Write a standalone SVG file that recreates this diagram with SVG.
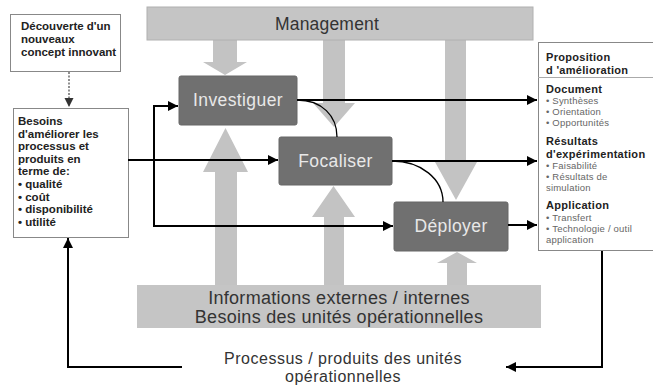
<svg xmlns="http://www.w3.org/2000/svg" width="653" height="389" viewBox="0 0 653 389">
<style>
  .bar{fill:#c5c5c5;stroke:#b0b0b0;stroke-width:1}
  .blk{fill:#c3c3c3}
  .dark{fill:#707070;stroke:#666;stroke-width:1}
  .dt{font-family:"Liberation Sans",Arial,sans-serif;font-size:17.5px;letter-spacing:0.4px;fill:#e8e8e8;text-anchor:middle}
  .bt{font-family:"Liberation Sans",Arial,sans-serif;font-size:18px;letter-spacing:0.3px;fill:#333;text-anchor:middle}
  .box{fill:#fff;stroke:#888;stroke-width:1}
  .lt{font-family:"Liberation Sans",Arial,sans-serif;font-size:11.5px;font-weight:bold;fill:#222}
  .hd{font-family:"Liberation Sans",Arial,sans-serif;font-size:11px;letter-spacing:0.3px;font-weight:bold;fill:#222}
  .bl{font-family:"Liberation Sans",Arial,sans-serif;font-size:9.5px;letter-spacing:0.2px;fill:#666}
  .ln{fill:none;stroke:#000;stroke-width:2}
  .cv{fill:none;stroke:#000;stroke-width:1.3}
</style>
<defs>
  <marker id="ah" viewBox="0 0 10 10" refX="10" refY="5" markerWidth="5" markerHeight="5" orient="auto" markerUnits="strokeWidth">
    <path d="M0,0 L10,5 L0,10 z" fill="#000"/>
  </marker>
  <marker id="ahs" viewBox="0 0 10 10" refX="10" refY="5" markerWidth="7" markerHeight="7" orient="auto" markerUnits="strokeWidth">
    <path d="M0,0 L10,5 L0,10 z" fill="#333"/>
  </marker>
</defs>

<!-- Block arrows -->
<g id="block-arrows">
  <polygon class="blk" points="213,40 237,40 237,62 247,62 225,75 203,62 213,62"/>
  <polygon class="blk" points="323,40 345,40 345,103 355,103 334,127 313,103 323,103"/>
  <polygon class="blk" points="445,40 466,40 466,162 477,162 456,200 435,162 445,162"/>
  <polygon class="blk" points="215,285 237,285 237,172 248,172 225.5,128 203,172 215,172"/>
  <polygon class="blk" points="324,285 344,285 344,217 355,217 333.5,186 312,217 324,217"/>
  <polygon class="blk" points="447,285 467,285 467,263 477,263 457,252 437,263 447,263"/>
</g>

<g id="management">
  <rect class="bar" x="147" y="7" width="386" height="33"/>
  <text class="bt" x="327" y="30" style="font-size:17.5px;letter-spacing:0.2px">Management</text>
</g>

<g id="informations">
  <rect class="bar" x="137" y="285" width="404" height="43" style="stroke:none"/>
  <text class="bt" x="339" y="304">Informations externes / internes</text>
  <text class="bt" x="339" y="323">Besoins des unités opérationnelles</text>
</g>

<g id="investiguer">
  <rect class="dark" x="179" y="76" width="118" height="49" rx="2"/>
  <text class="dt" x="238" y="106">Investiguer</text>
</g>
<g id="focaliser">
  <rect class="dark" x="279" y="137" width="113" height="48" rx="2"/>
  <text class="dt" x="335.5" y="167">Focaliser</text>
</g>
<g id="deployer">
  <rect class="dark" x="394" y="202" width="114" height="49" rx="2"/>
  <text class="dt" x="451" y="232">Déployer</text>
</g>

<g id="decouverte">
  <rect class="box" x="10.5" y="14.5" width="110" height="57"/>
  <text class="lt" x="21" y="30">Découverte d'un</text>
  <text class="lt" x="21" y="43">nouveaux</text>
  <text class="lt" x="21" y="56">concept innovant</text>
</g>

<g id="besoins">
  <rect class="box" x="13.5" y="108.5" width="115" height="129"/>
  <text class="lt" x="18" y="125">Besoins</text>
  <text class="lt" x="18" y="137.6">d'améliorer les</text>
  <text class="lt" x="18" y="150.2">processus et</text>
  <text class="lt" x="18" y="162.8">produits en</text>
  <text class="lt" x="18" y="175.4">terme de:</text>
  <text class="lt" x="18" y="188">• qualité</text>
  <text class="lt" x="18" y="200.6">• coût</text>
  <text class="lt" x="18" y="213.2">• disponibilité</text>
  <text class="lt" x="18" y="225.8">• utilité</text>
</g>

<g id="proposition">
  <rect class="box" x="538.5" y="42.5" width="120" height="208"/>
  <line x1="538" y1="77.5" x2="653" y2="77.5" stroke="#aaa" stroke-width="1"/>
  <text class="hd" x="546" y="61">Proposition</text>
  <text class="hd" x="546" y="73.5">d 'amélioration</text>
  <text class="hd" x="546" y="93">Document</text>
  <text class="bl" x="546" y="104">• Synthèses</text>
  <text class="bl" x="546" y="115">• Orientation</text>
  <text class="bl" x="546" y="126">• Opportunités</text>
  <text class="hd" x="546" y="145">Résultats</text>
  <text class="hd" x="546" y="157.5">d'expérimentation</text>
  <text class="bl" x="546" y="168.5">• Faisabilité</text>
  <text class="bl" x="546" y="179.5">• Résultats de</text>
  <text class="bl" x="546" y="190.5">simulation</text>
  <text class="hd" x="546" y="209">Application</text>
  <text class="bl" x="546" y="221">• Transfert</text>
  <text class="bl" x="546" y="232">• Technologie / outil</text>
  <text class="bl" x="546" y="243">application</text>
</g>

<g id="processus-label">
  <text class="bt" x="343" y="364" style="font-size:16px;letter-spacing:0.5px">Processus / produits des unités</text>
  <text class="bt" x="343" y="382" style="font-size:16px;letter-spacing:0.5px">opérationnelles</text>
</g>

<g id="connectors">
  <line x1="69" y1="72" x2="69" y2="107" stroke="#555" stroke-width="1.3" stroke-dasharray="2,1.5" marker-end="url(#ahs)"/>
  <line class="ln" x1="128" y1="160" x2="278" y2="160" marker-end="url(#ah)"/>
  <polyline class="ln" points="178,106 154,106 154,226 393,226" marker-end="url(#ah)"/>
  <line class="ln" x1="154" y1="106" x2="178" y2="106" marker-end="url(#ah)"/>
  <line class="ln" x1="297" y1="100" x2="537" y2="100" marker-end="url(#ah)"/>
  <line class="ln" x1="392" y1="161" x2="537" y2="161" marker-end="url(#ah)"/>
  <line class="ln" x1="508" y1="225" x2="537" y2="225" marker-end="url(#ah)"/>
  <path class="cv" d="M297,100 C322,100 337,116 337,137"/>
  <path class="cv" d="M392,161 C421,161 443,179 443,202"/>
  <polyline class="ln" points="602,251 602,367 506,367" marker-end="url(#ah)"/>
  <polyline class="ln" points="182,367 68,367 68,238" marker-end="url(#ah)"/>
</g>
</svg>
